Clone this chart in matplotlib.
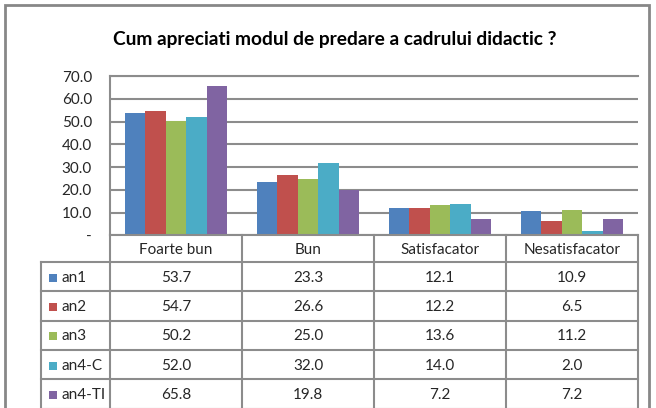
import matplotlib
matplotlib.use("Agg")
import matplotlib.pyplot as plt
from matplotlib.lines import Line2D
from matplotlib.patches import Rectangle
from matplotlib.transforms import blended_transform_factory
import numpy as np

title = "Cum apreciati modul de predare a cadrului didactic ?"
categories = ["Foarte bun", "Bun", "Satisfacator", "Nesatisfacator"]
series_names = ["an1", "an2", "an3", "an4-C", "an4-TI"]
an1 = [53.7, 23.3, 12.1, 10.9]
an2 = [54.7, 26.6, 12.2, 6.5]
an3 = [50.2, 25.0, 13.6, 11.2]
an4_C = [52.0, 32.0, 14.0, 2.0]
an4_TI = [65.8, 19.8, 7.2, 7.2]
series_values = [an1, an2, an3, an4_C, an4_TI]
colors = ["#4F81BD", "#C0504D", "#9BBB59", "#4BACC6", "#8064A2"]
yticks = [0, 10, 20, 30, 40, 50, 60, 70]
ytick_labels = ["-", "10.0", "20.0", "30.0", "40.0", "50.0", "60.0", "70.0"]

plt.rcParams['font.family'] = ['Lato', 'DejaVu Sans']

W, H = 656, 408
fig = plt.figure(figsize=(W / 100, H / 100), dpi=100)

def fx(px):
    return px / W

def fy(py):
    return 1 - py / H

grid_c = "#8C8C8C"
text_c = "#262626"
fs = 11

# outer chart border
fig.add_artist(Rectangle((fx(5), fy(420)), fx(644), (420 - 5) / H,
                         transform=fig.transFigure, fill=False,
                         edgecolor="#878787", linewidth=2))

ax = fig.add_axes([fx(110), fy(235.5), fx(528), (235.5 - 76) / H])
n = len(series_names)
x = np.arange(len(categories))
bw = 0.156
for i, (name, vals, c) in enumerate(zip(series_names, series_values, colors)):
    ax.bar(x + (i - (n - 1) / 2) * bw, vals, bw, color=c, zorder=3, linewidth=0)

ax.set_xlim(-0.5, len(categories) - 0.5)
ax.set_ylim(0, 70)
ax.set_yticks(yticks)
ax.set_yticklabels(ytick_labels, fontsize=fs, color=text_c)
ax.tick_params(axis='y', length=0, pad=13)
ax.set_xticks([])
ax.grid(axis='y', color=grid_c, linewidth=1.5, zorder=0)
for s in ["right", "bottom"]:
    ax.spines[s].set_visible(False)
ax.spines["top"].set_color(grid_c)
ax.spines["top"].set_linewidth(1.5)
ax.spines["left"].set_color(grid_c)
ax.spines["left"].set_linewidth(1.5)

fig.text(fx(334.5), fy(40), title, ha='center', va='center',
         fontsize=13.8, fontweight='bold', color='black')

# data table
tr = blended_transform_factory(ax.transData, fig.transFigure)
row_edges = [235.5, 262, 291, 320.5, 350, 379, 408.5]
lw = 1.5
x_left_labels = -0.5 - (110 - 41) / 132
for k, yy in enumerate(row_edges):
    x0 = -0.5 if k == 0 else x_left_labels
    fig.add_artist(Line2D([x0, len(categories) - 0.5], [fy(yy), fy(yy)],
                          transform=tr, color=grid_c, linewidth=lw, clip_on=False))
for b in np.arange(len(categories) + 1) - 0.5:
    fig.add_artist(Line2D([b, b], [fy(235.5), fy(410)], transform=tr,
                          color=grid_c, linewidth=lw, clip_on=False))
fig.add_artist(Line2D([x_left_labels, x_left_labels], [fy(262), fy(410)], transform=tr,
                      color=grid_c, linewidth=lw, clip_on=False))
for j, cat in enumerate(categories):
    fig.text(j, fy((row_edges[0] + row_edges[1]) / 2 + 1), cat, transform=tr,
             ha='center', va='center', fontsize=fs, color=text_c)
for i, (name, vals, c) in enumerate(zip(series_names, series_values, colors)):
    yc = fy((row_edges[i + 1] + row_edges[i + 2]) / 2 + 1)
    fig.add_artist(Rectangle((fx(49), yc - 4 / H), fx(8), 8 / H,
                             transform=fig.transFigure, facecolor=c, edgecolor='none'))
    fig.text(fx(62), yc, name, ha='left', va='center', fontsize=fs, color=text_c)
    for j, v in enumerate(vals):
        fig.text(j, yc, f"{v:.1f}", transform=tr, ha='center', va='center',
                 fontsize=fs, color=text_c)

fig.savefig("out.png", dpi=100)
